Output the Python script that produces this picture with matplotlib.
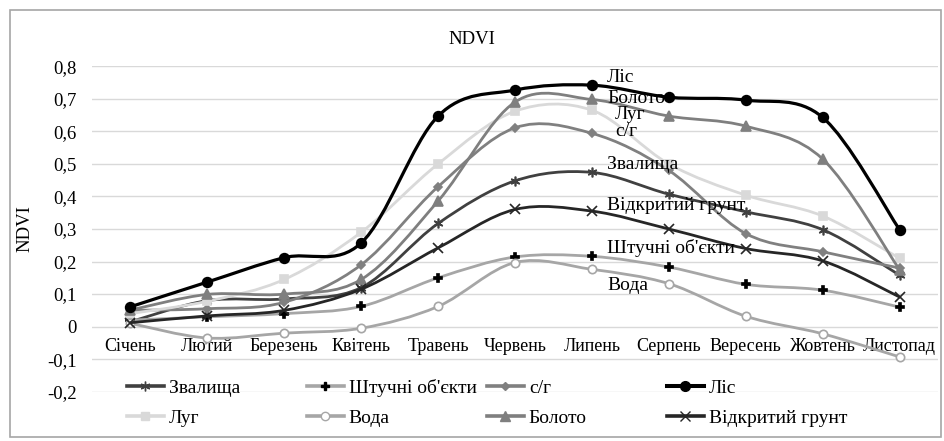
import numpy as np
import matplotlib.pyplot as plt
from matplotlib.path import Path
from matplotlib.patches import PathPatch, Rectangle
from matplotlib.lines import Line2D

plt.rcParams['font.family'] = ['Liberation Serif', 'DejaVu Serif']
plt.rcParams['font.size'] = 13

months = ['Січень', 'Лютий', 'Березень', 'Квітень', 'Травень', 'Червень',
          'Липень', 'Серпень', 'Вересень', 'Жовтень', 'Листопад']

zvalyshcha = [0.015, 0.08, 0.085, 0.12, 0.317, 0.448, 0.474, 0.407, 0.353, 0.298, 0.158]
shtuchni = [0.02, 0.03, 0.04, 0.062, 0.15, 0.214, 0.216, 0.183, 0.13, 0.112, 0.06]
sg = [0.05, 0.055, 0.075, 0.19, 0.43, 0.611, 0.594, 0.48, 0.286, 0.23, 0.18]
lis = [0.061, 0.137, 0.212, 0.257, 0.647, 0.727, 0.742, 0.705, 0.696, 0.643, 0.298]
luh = [0.04, 0.078, 0.145, 0.29, 0.50, 0.662, 0.665, 0.50, 0.404, 0.34, 0.21]
voda = [0.01, -0.035, -0.02, -0.005, 0.062, 0.197, 0.176, 0.132, 0.032, -0.022, -0.093]
boloto = [0.051, 0.099, 0.10, 0.145, 0.386, 0.69, 0.698, 0.647, 0.616, 0.515, 0.175]
vidkrytyi = [0.012, 0.033, 0.05, 0.115, 0.242, 0.36, 0.355, 0.30, 0.24, 0.202, 0.091]

x = np.arange(len(months))


def smooth_path(xs, ys):
    # excel-like smoothed line: cubic bezier through the points
    p = np.column_stack([xs, ys]).astype(float)
    n = len(p)
    verts = [p[0]]
    codes = [Path.MOVETO]
    for i in range(n - 1):
        p0 = p[max(i - 1, 0)]
        p1 = p[i]
        p2 = p[i + 1]
        p3 = p[min(i + 2, n - 1)]
        verts += [p1 + (p2 - p0) / 6, p2 - (p3 - p1) / 6, p2]
        codes += [Path.CURVE4] * 3
    return Path(verts, codes)


# label, values, line colour, lw, marker, size, face, edge, label offset (px)
series = [
    ('Звалища', zvalyshcha, '#404040', 2.0, (6, 2, 0), 7, '#404040', '#404040', (15, 8)),
    ("Штучні об'єкти", shtuchni, '#a6a6a6', 2.0, 'P', 6, 'black', 'black', (15, 8)),
    ('с/г', sg, '#808080', 2.0, 'D', 4.5, '#808080', '#808080', (23, 2)),
    ('Луг', luh, '#d9d9d9', 2.0, 's', 6, '#d9d9d9', '#d9d9d9', (23, -4)),
    ('Вода', voda, '#a6a6a6', 2.0, 'o', 6, 'white', '#a6a6a6', (15, -16)),
    ('Болото', boloto, '#7f7f7f', 2.0, '^', 6.5, '#7f7f7f', '#7f7f7f', (15, 1)),
    ('Відкритий грунт', vidkrytyi, '#262626', 2.0, 'x', 6.5, '#262626', '#262626', (15, 6)),
    ('Ліс', lis, 'black', 2.3, 'o', 7, 'black', 'black', (15, 8)),
]

fig = plt.figure(figsize=(9.44, 4.41), dpi=100)
ax = fig.add_axes([92 / 944, 1 - 391.7 / 441, 846 / 944, (391.7 - 66.3) / 441])

handles = {}
for k, (name, vals, col, lw, mk, ms, mfc, mec, off) in enumerate(series):
    z = 3 + k
    ax.add_patch(PathPatch(smooth_path(x, vals), facecolor='none', edgecolor=col,
                           lw=lw, zorder=z, capstyle='round', joinstyle='round'))
    ax.plot(x, vals, linestyle='none', marker=mk, ms=ms, mfc=mfc, mec=mec,
            mew=1.2, zorder=z + 0.5)
    handles[name] = Line2D([], [], color=col, lw=lw + 0.6, marker=mk, ms=ms, mfc=mfc,
                           mec=mec, mew=1.0)
    ax.annotate(name, xy=(6, vals[6]), xytext=off, textcoords='offset pixels',
                ha='left', va='center', fontsize=14, zorder=20)

ax.set_xlim(-0.5, len(months) - 0.5)
ax.set_ylim(-0.2, 0.8)
yt = np.round(np.arange(-0.2, 0.81, 0.1), 1)
ax.set_yticks(yt)
ax.set_yticklabels(['0' if v == 0 else f'{v:.1f}'.replace('.', ',') for v in yt])
ax.set_xticks(x)
ax.set_xticklabels(months)
ax.spines['bottom'].set_position(('data', 0))
for s in ax.spines.values():
    s.set_visible(False)
ax.tick_params(axis='y', length=0, labelsize=13.5, pad=11)
ax.tick_params(axis='x', length=0, labelsize=13, pad=8)
ax.grid(axis='y', color='#d9d9d9', lw=1)
ax.set_axisbelow(True)
ax.set_ylabel('NDVI', fontsize=13.5, labelpad=10)

fig.text(0.5, 1 - 40 / 441, 'NDVI', ha='center', va='center', fontsize=13.5)

legend_rows = [['Звалища', "Штучні об'єкти", 'с/г', 'Ліс'],
               ['Луг', 'Вода', 'Болото', 'Відкритий грунт']]
col_x = [127, 307, 487, 667]
row_y = [388, 418]
for r, row in enumerate(legend_rows):
    for c, name in enumerate(row):
        fig.legend([handles[name]], [name], loc='center left',
                   bbox_to_anchor=(col_x[c] / 944, 1 - row_y[r] / 441),
                   frameon=False, borderpad=0, borderaxespad=0,
                   handlelength=1.9, handletextpad=0.25, fontsize=14)

fig.patches.append(Rectangle((10 / 944, 4 / 441), 931 / 944, 427 / 441,
                             transform=fig.transFigure, fill=False,
                             edgecolor='#a6a6a6', lw=1.2))

fig.savefig('out.png', dpi=100)
